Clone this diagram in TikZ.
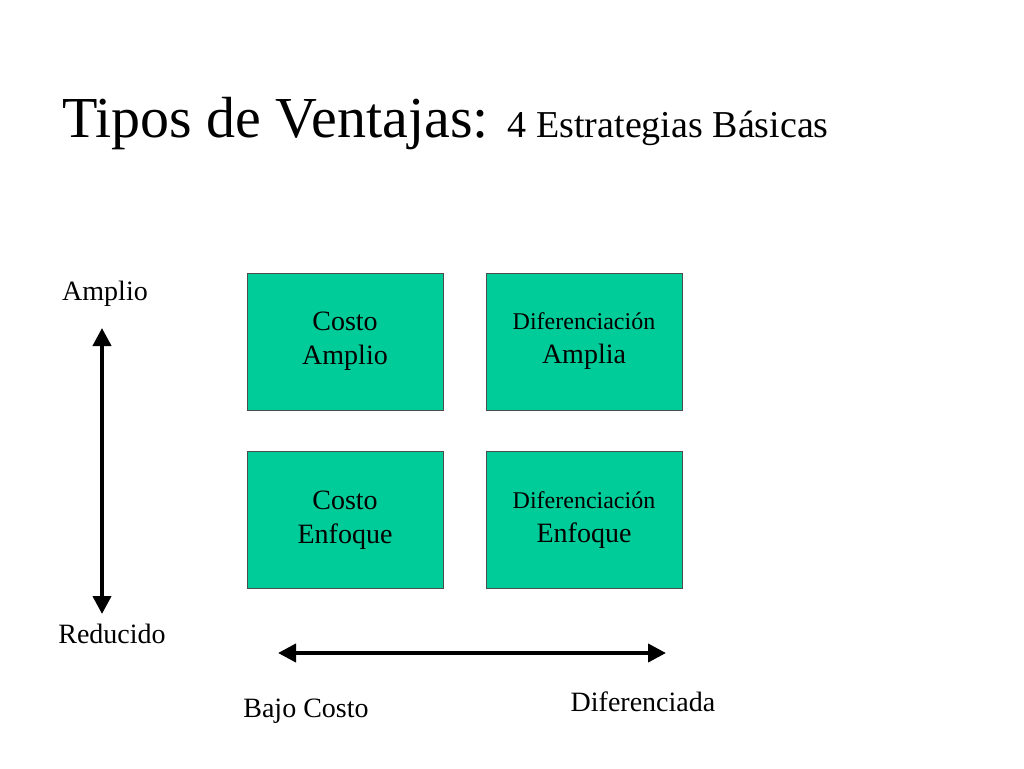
\documentclass[tikz,border=0pt]{standalone}
\usepackage{fontspec}
\setmainfont{Liberation Serif}
\usetikzlibrary{arrows.meta}
\definecolor{boxg}{HTML}{00CC99}
\begin{document}
\begin{tikzpicture}[x=1pt,y=-1pt,
  box/.style={draw=black!70,line width=1pt,fill=boxg,minimum width=196pt,minimum height=137pt,align=center,inner sep=0pt,font=\fontsize{28}{34}\selectfont},
  lab/.style={font=\fontsize{28}{34}\selectfont},
  axis/.style={line width=4pt,{Triangle[length=18pt,width=18pt]}-{Triangle[length=18pt,width=18pt]}}]
\useasboundingbox (0,0) rectangle (1024,768);
\node[anchor=base west,inner sep=0pt] (title) at (62,137) {\fontsize{58}{66}\selectfont Tipos de Ventajas: \fontsize{38}{44}\selectfont 4 Estrategias Básicas};
\node[box] (ca) at (345,341.5) {Costo\\Amplio};
\node[box] (da) at (584,341.5) {{\fontsize{24}{30}\selectfont Diferenciación}\\Amplia};
\node[box] (ce) at (345,520) {Costo\\Enfoque};
\node[box] (de) at (584,520) {{\fontsize{24}{30}\selectfont Diferenciación}\\Enfoque};
\node[lab] (amp) at (105,294) {Amplio};
\node[lab] (red) at (112,634) {Reducido};
\node[lab] (bc) at (306,711) {Bajo Costo};
\node[lab] (dif) at (643,702) {Diferenciada};
\coordinate (v1) at (102,328);
\coordinate (v2) at (102,614);
\coordinate (h1) at (278,653);
\coordinate (h2) at (666,653);
\draw[axis] (v1) -- (v2);
\draw[axis] (h1) -- (h2);
\end{tikzpicture}
\end{document}
